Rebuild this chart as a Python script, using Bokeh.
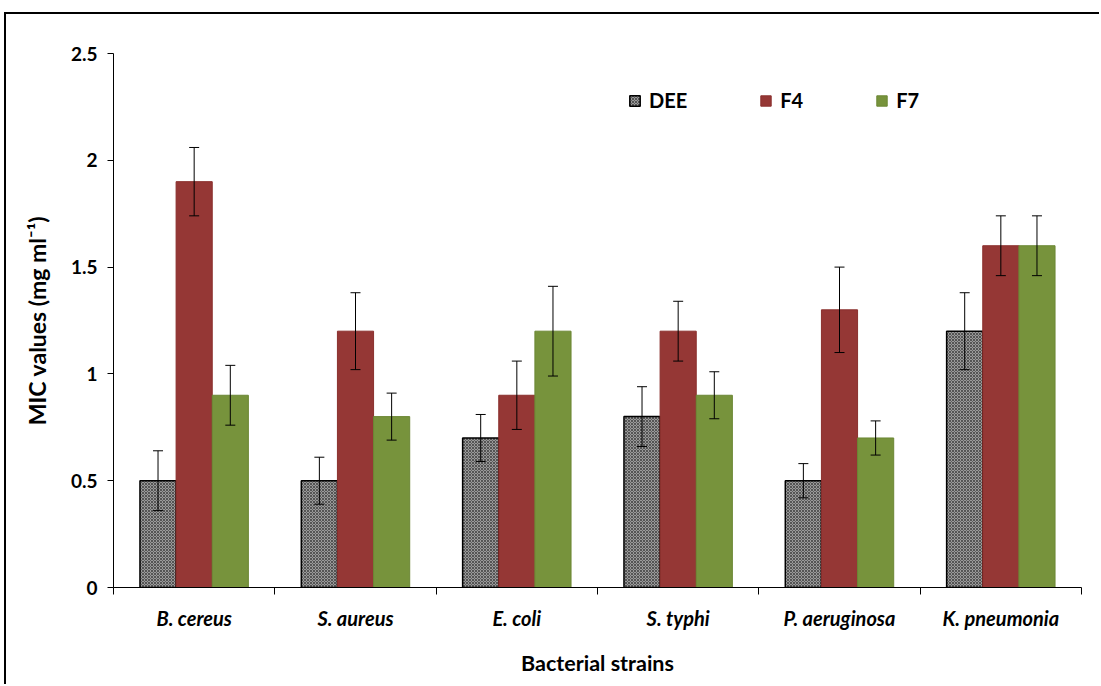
from bokeh.plotting import figure
from bokeh.models import ColumnDataSource, Whisker, TeeHead, FixedTicker, Range1d, Legend
from bokeh.embed import file_html
from bokeh.resources import INLINE

strains = ["B. cereus", "S. aureus", "E. coli", "S. typhi", "P. aeruginosa", "K. pneumonia"]
series = ["DEE", "F4", "F7"]
dee = [0.5, 0.5, 0.7, 0.8, 0.5, 1.2]
f4 = [1.9, 1.2, 0.9, 1.2, 1.3, 1.6]
f7 = [0.9, 0.8, 1.2, 0.9, 0.7, 1.6]
dee_err = [0.14, 0.11, 0.11, 0.14, 0.08, 0.18]
f4_err = [0.16, 0.18, 0.16, 0.14, 0.20, 0.14]
f7_err = [0.14, 0.11, 0.21, 0.11, 0.08, 0.14]
y_ticks = [0, 0.5, 1, 1.5, 2, 2.5]
y_tick_labels = ["0", "0.5", "1", "1.5", "2", "2.5"]

FONT = "Lato"
bar_w = 0.224
offsets = [-bar_w, 0.0, bar_w]
styles = [
    dict(fill_color="#9a9a9a", line_color="#000000", line_width=1.5,
         hatch_pattern="diagonal_cross", hatch_color="#000000", hatch_alpha=0.45, hatch_scale=3, hatch_weight=1),
    dict(fill_color="#953735", line_color="#8a2f2d", line_width=1),
    dict(fill_color="#77933C", line_color="#6b8734", line_width=1),
]
values = [dee, f4, f7]
errors = [dee_err, f4_err, f7_err]

p = figure(width=1095, height=672, output_backend="svg", toolbar_location=None,
           x_range=Range1d(0, len(strains)), y_range=Range1d(0, 2.5))
p.min_border_left = 107
p.min_border_top = 39
p.min_border_right = 20
p.min_border_bottom = 99
p.outline_line_color = None
p.xgrid.visible = False
p.ygrid.visible = False
p.styles = {"border-top": "2px solid #000", "border-left": "2px solid #000",
            "margin-top": "12px", "margin-left": "4px"}

items = []
whiskers = []
for k, name in enumerate(series):
    xs = [i + 0.5 + offsets[k] for i in range(len(strains))]
    src = ColumnDataSource(dict(x=xs, top=values[k],
                                lower=[v - e for v, e in zip(values[k], errors[k])],
                                upper=[v + e for v, e in zip(values[k], errors[k])]))
    r = p.vbar(x="x", top="top", width=bar_w, bottom=0, source=src, **styles[k])
    items.append((name, [r]))
    w = Whisker(base="x", lower="lower", upper="upper", source=src, level="overlay",
                line_color="#000000", line_width=1,
                upper_head=TeeHead(size=10, line_color="#000000", line_width=1),
                lower_head=TeeHead(size=10, line_color="#000000", line_width=1))
    whiskers.append(w)
for w in whiskers:
    p.add_layout(w)

legend = Legend(items=items, orientation="horizontal", location=(515, 475))
legend.border_line_color = None
legend.background_fill_alpha = 0
legend.label_text_font = FONT
legend.label_text_font_style = "bold"
legend.label_text_font_size = "20px"
legend.label_text_color = "#000000"
legend.glyph_width = 13
legend.glyph_height = 13
legend.label_standoff = 8
legend.label_width = 0
legend.spacing = 72
legend.padding = 0
legend.margin = 0
p.add_layout(legend, "center")

xa = p.xaxis[0]
xa.ticker = FixedTicker(ticks=[i + 0.5 for i in range(len(strains))],
                        minor_ticks=list(range(len(strains) + 1)))
xa.major_label_overrides = {i + 0.5: s for i, s in enumerate(strains)}
xa.major_tick_line_color = None
xa.major_tick_out = 0
xa.major_tick_in = 0
xa.minor_tick_line_color = "#000000"
xa.minor_tick_out = 7
xa.minor_tick_in = 0
xa.axis_line_color = "#000000"
xa.major_label_text_font = FONT
xa.major_label_text_font_style = "bold italic"
xa.major_label_text_font_size = "20px"
xa.major_label_text_color = "#000000"
xa.major_label_standoff = 11
xa.axis_label = "Bacterial strains"
xa.axis_label_text_font = FONT
xa.axis_label_text_font_style = "bold"
xa.axis_label_text_font_size = "21.5px"
xa.axis_label_text_color = "#000000"
xa.axis_label_standoff = 17

ya = p.yaxis[0]
ya.ticker = FixedTicker(ticks=y_ticks, minor_ticks=[])
ya.major_label_overrides = {t: l for t, l in zip(y_ticks, y_tick_labels)}
ya.major_tick_out = 6
ya.major_tick_in = 0
ya.major_tick_line_color = "#000000"
ya.axis_line_color = "#000000"
ya.major_label_text_font = FONT
ya.major_label_text_font_style = "bold"
ya.major_label_text_font_size = "19px"
ya.major_label_text_color = "#000000"
ya.major_label_standoff = 10
ya.axis_label = "MIC values (mg ml\u207b\u00b9)"
ya.axis_label_text_font = FONT
ya.axis_label_text_font_style = "bold"
ya.axis_label_text_font_size = "23px"
ya.axis_label_text_color = "#000000"
ya.axis_label_standoff = 17

open("out.html", "w").write(file_html(p, INLINE))
